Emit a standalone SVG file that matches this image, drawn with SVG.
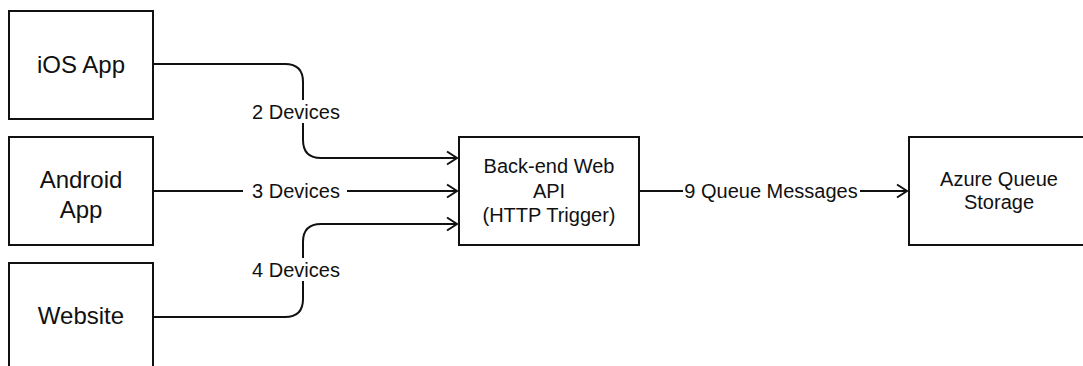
<svg xmlns="http://www.w3.org/2000/svg" width="1083" height="366" viewBox="0 0 1083 366">
  <style>
    .box { fill: #ffffff; stroke: #111111; stroke-width: 2; }
    .line { fill: none; stroke: #111111; stroke-width: 2; }
    .big { font-family: "Liberation Sans", Arial, sans-serif; font-size: 24px; fill: #111111; text-anchor: middle; }
    .txt { font-family: "Liberation Sans", Arial, sans-serif; font-size: 20px; fill: #111111; text-anchor: middle; }
    .lblbg { fill: #ffffff; stroke: none; }
  </style>
  <defs>
    <marker id="open" markerUnits="userSpaceOnUse" markerWidth="14" markerHeight="16" viewBox="-12 -8 14 16" refX="0" refY="0" orient="auto">
      <path d="M-10,-6.5 L0,0 L-10,6.5" fill="none" stroke="#111111" stroke-width="2"/>
    </marker>
  </defs>
  <rect width="1083" height="366" fill="#ffffff"/>

  <g id="connectors">
    <path class="line" d="M153,64 H285 Q303,64 303,82 V140 Q303,158 321,158 H457" marker-end="url(#open)"/>
    <path class="line" d="M153,191 H457" marker-end="url(#open)"/>
    <path class="line" d="M153,317 H285 Q303,317 303,299 V242 Q303,224 321,224 H457" marker-end="url(#open)"/>
    <path class="line" d="M639,191 H907" marker-end="url(#open)"/>
    <rect class="lblbg" x="251" y="100" width="90" height="23"/>
    <text class="txt" x="296" y="119">2 Devices</text>
    <rect class="lblbg" x="243" y="180" width="104" height="23"/>
    <text class="txt" x="296" y="198">3 Devices</text>
    <rect class="lblbg" x="251" y="258" width="90" height="23"/>
    <text class="txt" x="296" y="277">4 Devices</text>
    <rect class="lblbg" x="683" y="180" width="177" height="23"/>
    <text class="txt" x="771" y="198">9 Queue Messages</text>
  </g>

  <g id="ios">
    <rect class="box" x="9" y="11" width="144" height="108"/>
    <text class="big" x="81" y="73">iOS App</text>
  </g>
  <g id="android">
    <rect class="box" x="9" y="137" width="144" height="108"/>
    <text class="big" x="81" y="188">Android</text>
    <text class="big" x="81" y="218">App</text>
  </g>
  <g id="website">
    <rect class="box" x="9" y="263" width="144" height="120"/>
    <text class="big" x="81" y="324">Website</text>
  </g>
  <g id="backend">
    <rect class="box" x="459" y="137" width="180" height="108"/>
    <text class="txt" x="549" y="173">Back-end Web</text>
    <text class="txt" x="549" y="198">API</text>
    <text class="txt" x="549" y="222">(HTTP Trigger)</text>
  </g>
  <g id="azure">
    <rect class="box" x="909" y="137" width="180" height="108"/>
    <text class="txt" x="999" y="186">Azure Queue</text>
    <text class="txt" x="999" y="209">Storage</text>
  </g>
</svg>
